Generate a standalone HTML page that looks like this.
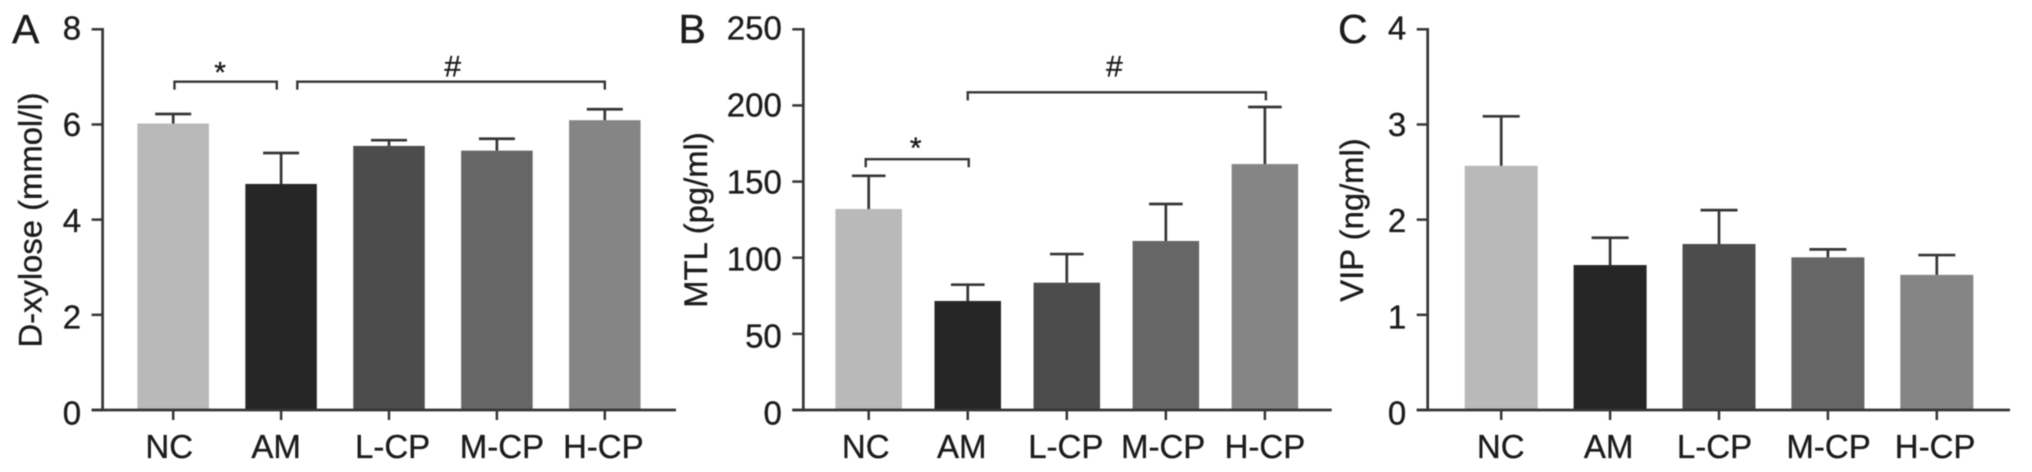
<!DOCTYPE html>
<html lang="en">
<head>
<meta charset="utf-8">
<title>D-xylose, MTL and VIP bar charts</title>
<style>
  html, body { margin: 0; padding: 0; background: #fff; width: 2032px; height: 472px; overflow: hidden; }
  svg { display: block; filter: blur(0.55px); }
  text { font-family: "Liberation Sans", sans-serif; fill: #1c1c1c; stroke: #1c1c1c; stroke-width: 0.35px; }
</style>
</head>
<body>
<svg id="figure" xmlns="http://www.w3.org/2000/svg" width="2032" height="472" viewBox="0 0 2032 472">
  <rect x="0" y="0" width="2032" height="472" fill="#ffffff"/>
  <text x="12" y="43" font-size="41">A</text>
  <text x="678.5" y="43" font-size="41">B</text>
  <text x="1338" y="43" font-size="41">C</text>
  <text transform="translate(41.5 220) rotate(-90)" text-anchor="middle" font-size="32.8">D-xylose (mmol/l)</text>
  <text transform="translate(707 220) rotate(-90)" text-anchor="middle" font-size="32.8">MTL (pg/ml)</text>
  <text transform="translate(1363 220) rotate(-90)" text-anchor="middle" font-size="32.8">VIP (ng/ml)</text>
</svg>
<script>
// Shared categories
const categories = ['NC', 'AM', 'L-CP', 'M-CP', 'H-CP'];

// Panel A: D-xylose (mmol/l)
const valuesA = [6.02, 4.75, 5.55, 5.45, 6.09];
const errorsA = [0.20, 0.65, 0.12, 0.25, 0.23];
const ticksA = [0, 2, 4, 6, 8];

// Panel B: MTL (pg/ml)
const valuesB = [132, 71.6, 83.6, 111, 161.5];
const errorsB = [21.8, 10.7, 18.8, 24.3, 37.5];
const ticksB = [0, 50, 100, 150, 200, 250];

// Panel C: VIP (ng/ml)
const valuesC = [2.566, 1.523, 1.744, 1.604, 1.42];
const errorsC = [0.52, 0.287, 0.356, 0.084, 0.208];
const ticksC = [0, 1, 2, 3, 4];

// Significance brackets: category-index span, value level, and mark position
const bracketsA = [
  { label: '*', name: 'star', from: 0.012, to: 0.96, level: 6.9, at: 0.435, markLevel: 7.25 },
  { label: '#', name: 'hash', from: 1.15, to: 4.0, level: 6.9, at: 2.59, markLevel: 7.23 }
];
const bracketsB = [
  { label: '*', name: 'star', from: -0.03, to: 1.01, level: 164.7, at: 0.475, markLevel: 177 },
  { label: '#', name: 'hash', from: 1.0, to: 4.01, level: 208.6, at: 2.48, markLevel: 226 }
];
const bracketsC = [];

const SVG_NS = 'http://www.w3.org/2000/svg';
const figure = document.getElementById('figure');
const barColors = ['#b9b9b9', '#262626', '#4c4c4c', '#666666', '#858585'];
const INK = '#363636';
const AXIS_TOP = 29.3;
const AXIS_BOTTOM = 410;

function make(tag, attrs, parent) {
  const node = document.createElementNS(SVG_NS, tag);
  Object.keys(attrs).forEach(function (k) { node.setAttribute(k, attrs[k]); });
  parent.appendChild(node);
  return node;
}

function drawPanel(p) {
  const group = make('g', {}, figure);
  
  

  const yMax = p.ticks[p.ticks.length - 1];
  const yScale = function (v) { return AXIS_BOTTOM - (v / yMax) * (AXIS_BOTTOM - AXIS_TOP); };
  const xScale = function (i) { return p.firstCenter + i * p.step; };

  // Bars
  p.values.forEach(function (v, i) {
    const bar = make('rect', {
      x: xScale(i) - p.barWidth / 2,
      y: yScale(v),
      width: p.barWidth,
      height: AXIS_BOTTOM - yScale(v),
      fill: barColors[i]
    }, group);
    
    
  });

  // Error bars
  p.values.forEach(function (v, i) {
    const top = yScale(v + p.errors[i]);
    const stem = make('line', { x1: xScale(i), x2: xScale(i), y1: yScale(v), y2: top, stroke: INK, 'stroke-width': 2.7 }, group);
    
    
    const cap = make('line', { x1: xScale(i) - p.capWidth / 2, x2: xScale(i) + p.capWidth / 2, y1: top, y2: top, stroke: INK, 'stroke-width': 2.7 }, group);
    
    
  });

  // Y axis
  const yAxis = make('line', { x1: p.axisX, x2: p.axisX, y1: AXIS_TOP - 1.3, y2: AXIS_BOTTOM + 1.3, stroke: INK, 'stroke-width': 2.7 }, group);
  
  

  p.ticks.forEach(function (t) {
    const y = yScale(t);
    const tick = make('line', { x1: p.axisX - 11, x2: p.axisX, y1: y, y2: y, stroke: INK, 'stroke-width': 2.5 }, group);
    
    
    const label = make('text', {
      x: p.axisX - 21.5,
      y: y + 10.2 + (y - AXIS_TOP) * 0.0113,
      'text-anchor': 'end',
      'font-size': 33
    }, group);
    label.textContent = String(t);
    
    
  });

  // X axis
  const xAxis = make('line', { x1: p.axisX - 11, x2: p.axisEnd, y1: AXIS_BOTTOM, y2: AXIS_BOTTOM, stroke: INK, 'stroke-width': 2.7 }, group);
  
  

  categories.forEach(function (c, i) {
    const tick = make('line', { x1: xScale(i), x2: xScale(i), y1: AXIS_BOTTOM, y2: AXIS_BOTTOM + 10, stroke: INK, 'stroke-width': 2.5 }, group);
    
    
    const label = make('text', {
      x: xScale(i) + p.labelNudge[i],
      y: 458,
      'text-anchor': 'middle',
      'font-size': 33
    }, group);
    label.textContent = c;
    
    
  });

  // Significance brackets
  p.brackets.forEach(function (b) {
    const y = yScale(b.level);
    const x1 = xScale(b.from);
    const x2 = xScale(b.to);
    const path = make('path', {
      d: 'M' + x1 + ' ' + (y + 8) + 'V' + y + 'H' + x2 + 'V' + (y + 8),
      fill: 'none',
      stroke: INK,
      'stroke-width': 2.4
    }, group);
    
    
    const isStar = b.label === '*';
    const mark = make('text', {
      x: xScale(b.at),
      y: yScale(b.markLevel) + (isStar ? 17.4 : 10.5),
      'text-anchor': 'middle',
      'font-size': 30,
      'stroke-width': 0.6
    }, group);
    mark.textContent = b.label;
    
    
  });
}

drawPanel({
  id: 'a', values: valuesA, errors: errorsA, ticks: ticksA, brackets: bracketsA,
  axisX: 102.6, axisEnd: 676, firstCenter: 173.2, step: 107.9, barWidth: 71.5, capWidth: 36,
  labelNudge: [-4, -5, 3.6, 5, -1.5]
});
drawPanel({
  id: 'b', values: valuesB, errors: errorsB, ticks: ticksB, brackets: bracketsB,
  axisX: 803.3, axisEnd: 1331.7, firstCenter: 868.7, step: 99.05, barWidth: 66.5, capWidth: 33.6,
  labelNudge: [-3, -6, -1, -2.7, 0]
});
drawPanel({
  id: 'c', values: valuesC, errors: errorsC, ticks: ticksC, brackets: bracketsC,
  axisX: 1427.7, axisEnd: 2010, firstCenter: 1501.2, step: 108.9, barWidth: 73, capWidth: 37,
  labelNudge: [-0.5, -1.5, -4.5, 0.7, -1.7]
});
</script>
</body>
</html>
